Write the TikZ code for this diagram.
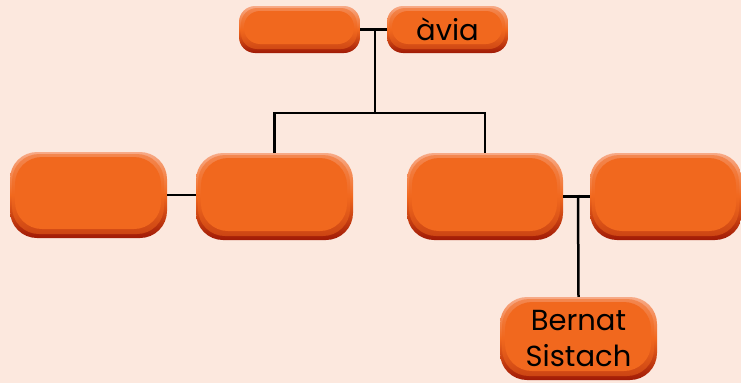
\documentclass[tikz,border=0pt]{standalone}
\usepackage{fontspec}
\setmainfont{Poppins}
\usetikzlibrary{positioning}
\definecolor{fons}{RGB}{252,232,222}
\definecolor{taronja}{RGB}{241,104,30}
\definecolor{clar}{RGB}{247,170,135}
\definecolor{fosc}{RGB}{160,26,6}
\tikzset{
caixa/.style={rounded corners=#1pt, inner sep=0pt, align=center,
  font=\fontsize{29}{36}\selectfont,
  top color=clar, bottom color=fosc, middle color=taronja,
  path picture={
    \fill[taronja, opacity=.5, rounded corners=#1pt]
    ([shift={(2,2)}]path picture bounding box.north west)
    rectangle ([shift={(-3,-4)}]path picture bounding box.south east);
    \fill[taronja, rounded corners=#1pt]
    ([shift={(5,5)}]path picture bounding box.north west)
    rectangle ([shift={(-6,-9)}]path picture bounding box.south east);}},
linia/.style={line width=2.5pt, black}
}
\begin{document}
\begin{tikzpicture}[x=1pt,y=-1pt]
\useasboundingbox[fill=fons] (0,0) rectangle (741,383);

%avis
\node[caixa=16, minimum width=121, minimum height=47] (avi) at (299.5,29.5) {};
\node[caixa=16, minimum width=121, minimum height=47] (avia) at (447.5,29.5) {\`avia};

%pares i oncles
\node[caixa=27, minimum width=157, minimum height=86] (p1) at (88.5,195) {};
\node[caixa=27, minimum width=157, minimum height=87] (p2) at (274.5,196.5) {};
\node[caixa=27, minimum width=156, minimum height=87] (p3) at (485,196.5) {};
\node[caixa=27, minimum width=152, minimum height=87] (p4) at (666,196.5) {};

%fill
\node[caixa=27, minimum width=157, minimum height=83] (net) at (578.5,338.5) {Bernat\\Sistach};

%lligams
\coordinate (j1) at (375,29.5);
\coordinate (j2) at (375,113);
\coordinate (j3) at (578,195);
\draw[linia] (avi.east) -- (avia.west);
\draw[linia] (j1) -- (j2);
\draw[linia] (p2.north) |- (j2) -| (p3.north);
\draw[linia] (p1.east) -- (p1.east -| p2.west);
\draw[linia] (p3.east) -- (p3.east -| p4.west);
\draw[linia] (j3) -- (net.north);
\end{tikzpicture}
\end{document}
